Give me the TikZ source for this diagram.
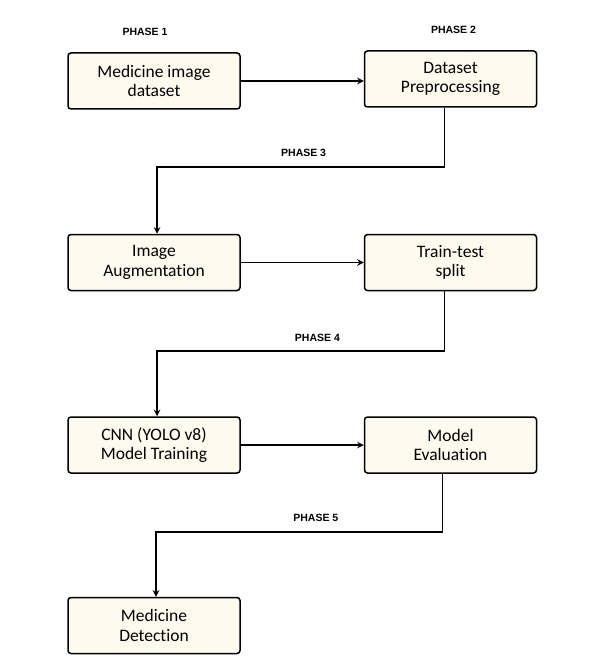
\documentclass[tikz,border=0pt]{standalone}
\usepackage{fontspec}
\setmainfont{Carlito}[Ligatures=NoCommon]
\newfontfamily\phasefont{Liberation Sans}
\usepackage{tikz}
\usetikzlibrary{shapes.geometric, arrows, calc, positioning}
\definecolor{boxfill}{RGB}{254,250,238}
\tikzstyle{block} = [rectangle, rounded corners=3pt, line width=1.5pt, minimum width=172pt, minimum height=56pt, text centered, align=center, draw=black, fill=boxfill, font=\fontsize{17.5}{19.5}\selectfont]
\tikzstyle{phase} = [font=\phasefont\bfseries\fontsize{10.5}{12}\selectfont, inner sep=1pt]
\tikzstyle{arrow} = [line width=1.9pt,->,>=stealth]

\begin{document}
\begin{tikzpicture}[x=1pt, y=-1pt, node distance = 123pt and 123pt]
	\useasboundingbox (0,0) rectangle (591,668);
	\node (Dataset) [block] at (154,81) {Medicine image\\dataset};
	\node (Preprocess) [block, right = of Dataset, yshift=2pt] {Dataset\\Preprocessing};
	\node (Augment) [block, below = 124pt of Dataset] {Image\\Augmentat\kern0pt ion};
	\node (Split) [block, right = of Augment] {Train-test\\split};
	\node (Training) [block, below = 125pt of Augment] {CNN (YOLO v8)\\Model Training};
	\node (Evaluation) [block, right = of Training] {Model\\Evaluat\kern0pt ion};
	\node (Detection) [block, below = of Training] {Medicine\\Detect\kern0pt ion};
	\node (PhaseOne) [phase, above = 15pt of Dataset, xshift=-9pt] {PHASE 1};
	\node (PhaseTwo) [phase, above = 15pt of Preprocess, xshift=3pt] {PHASE 2};
	\draw [arrow] (Dataset) -- (Preprocess.west |- Dataset);
	\draw [arrow] ([xshift=-6pt]Preprocess.south) -- ++(0,59) -| ([xshift=3pt]Augment.north) node[phase, pos=0.245, above=8pt]{PHASE 3};
	\draw [arrow] (Augment) -- (Split);
	\draw [arrow] ([xshift=-6pt]Split.south) -- ++(0,60) -| ([xshift=3pt]Training.north) node[phase, pos=0.221, above=8pt]{PHASE 4};
	\draw [arrow] (Training) -- (Evaluation);
	\draw [arrow] ([xshift=-8pt]Evaluation.south) -- ++(0,58) -| ([xshift=2pt]Detection.north) node[phase, pos=0.221, above=8pt]{PHASE 5};
\end{tikzpicture}
\end{document}
